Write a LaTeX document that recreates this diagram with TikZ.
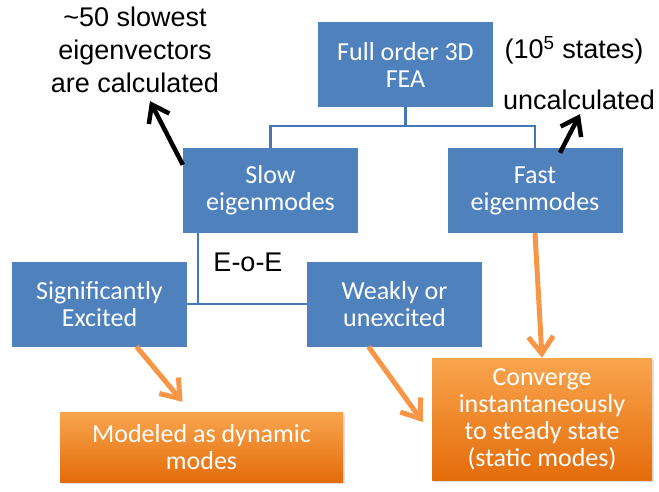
\documentclass[tikz,border=0pt]{standalone}
\usepackage{fontspec}
\setmainfont{Liberation Sans}
\newfontfamily\boxfont{Carlito}
\usetikzlibrary{arrows.meta,shadows,calc}
\definecolor{boxblue}{HTML}{4F81BD}
\definecolor{linkblue}{HTML}{4677B4}
\definecolor{orangetop}{HTML}{F9A54E}
\definecolor{orangebot}{HTML}{E46C0A}
\definecolor{arroworange}{HTML}{F79646}
\tikzset{
  bluebox/.style={fill=boxblue, text=white, minimum width=175pt, minimum height=85pt,
    inner sep=2pt, align=center, font=\boxfont\fontsize{26}{27}\selectfont},
  orangebox/.style={top color=orangetop, bottom color=orangebot, text=white, align=center,
    inner sep=2pt, font=\boxfont\fontsize{26}{27}\selectfont,
    drop shadow={opacity=0.25, shadow xshift=2pt, shadow yshift=-2pt}},
  link/.style={draw=linkblue, line width=2.5pt},
  blackarrow/.style={draw=black, line width=4.5pt, -{Straight Barb[length=16pt,width=23pt]}},
  orangearrow/.style={draw=arroworange, line width=5pt, -{Straight Barb[length=17pt,width=25pt]}},
  plaintext/.style={align=center, inner sep=0pt, font=\fontsize{27}{33}\selectfont},
}
\begin{document}
\begin{tikzpicture}[x=1pt,y=-1pt]
\useasboundingbox (0,0) rectangle (659,491);
% blue boxes
\node[bluebox] (full) at (405.5,64.5) {Full order 3D\\FEA};
\node[bluebox] (slow) at (270.5,190.5) {Slow\\eigenmodes};
\node[bluebox] (fast) at (535,190.5) {Fast\\eigenmodes};
\node[bluebox] (sig) at (99.5,304) {Significantly\\Excited};
\node[bluebox] (weak) at (394.5,304) {Weakly or\\unexcited};
% orange boxes
\node[orangebox, minimum width=283pt, minimum height=70pt] (model) at (201.5,447) {Modeled as dynamic\\modes};
\node[orangebox, minimum width=220pt, minimum height=122pt] (conv) at (542,419) {Converge\\instantaneously\\to steady state\\(static modes)};
% plain texts
\node[plaintext] (calc) at (135,50) {\textasciitilde50 slowest\\eigenvectors\\are calculated};
\node[plaintext] (states) at (574,50) {(10\textsuperscript{5} states)};
\node[plaintext] (uncalc) at (579,100) {uncalculated};
\node[plaintext] (eoe) at (248,262) {E-o-E};
% tree connectors
\coordinate (fork) at (405.5,126);
\draw[link] (full.south) -- (fork);
\draw[link] (slow.north) |- (fork) -| (fast.north);
\coordinate (eoejoin) at (198,304);
\draw[link] (sig.east) -- (weak.west);
\draw[link] (slow.south -| eoejoin) -- (eoejoin);
% black arrows
\draw[blackarrow] ($(slow.north west)+(0,17)$) -- ($(calc.south)+(15,8)$);
\draw[blackarrow] ($(fast.north)+(25,5)$) -- ($(uncalc.south)+(1,4)$);
% orange arrows
\draw[orangearrow] ($(sig.south)+(37,0)$) -- ($(model.north)+(-19,-10)$);
\draw[orangearrow] ($(weak.south)+(-26,0)$) -- ($(conv.west)+(-9,3)$);
\draw[orangearrow] (fast.south) -- (conv.north);
\end{tikzpicture}
\end{document}
